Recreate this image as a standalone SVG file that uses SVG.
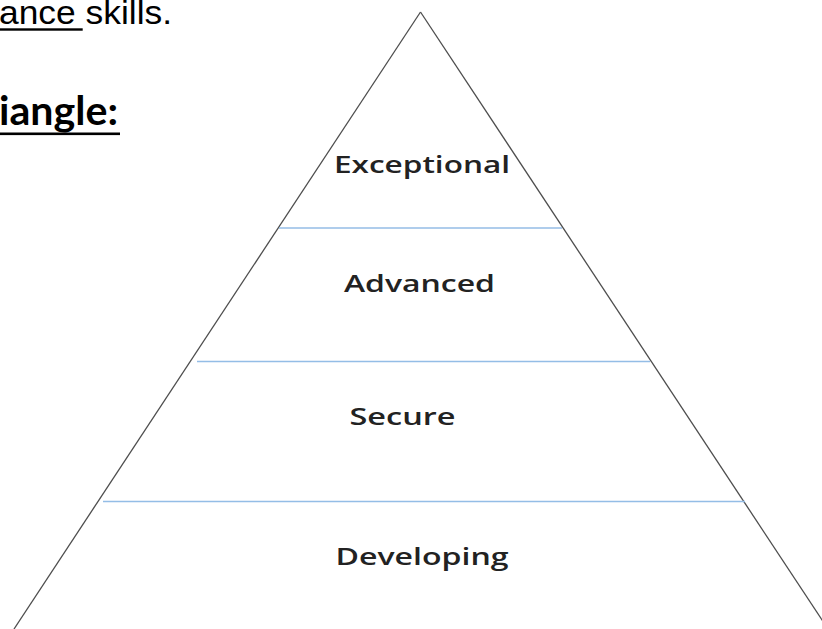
<svg xmlns="http://www.w3.org/2000/svg" width="822" height="629" viewBox="0 0 822 629">
<style>
.bg{fill:#ffffff}
.edge{stroke:#4d4d4d;stroke-width:1.3;fill:none}
.div{stroke:#94bde6;stroke-width:1.5;fill:none}
.lbl{font-family:"Open Sans","Noto Sans",sans-serif;font-size:24px;font-weight:600;fill:#222222}
.body{font-family:"Liberation Sans",Arial,sans-serif;font-size:33px;fill:#000}
.head{font-family:Lato,"Open Sans",sans-serif;font-weight:bold;font-size:40px;fill:#000}
.ul{fill:#000}
</style>
<rect class="bg" x="0" y="0" width="822" height="629"/>
<g id="heading">
<text class="body" x="-1" y="23.5" textLength="173" lengthAdjust="spacingAndGlyphs">ance skills.</text>
<rect class="ul" x="0" y="28.3" width="82.7" height="2.4"/>
<text class="head" x="-1" y="125" textLength="119" lengthAdjust="spacingAndGlyphs">iangle:</text>
<rect class="ul" x="0" y="132.5" width="120" height="2.6"/>
</g>
<g id="connectors">
<line class="edge" x1="420.5" y1="12" x2="14" y2="629"/>
<line class="edge" x1="420.5" y1="12" x2="828" y2="629"/>
<line class="div" x1="279" y1="228" x2="562" y2="228"/>
<line class="div" x1="197" y1="361.5" x2="650" y2="361.5"/>
<line class="div" x1="103" y1="501.5" x2="745" y2="501.5"/>
</g>
<g id="exceptional">
<text class="lbl" x="334" y="173.3" textLength="176" lengthAdjust="spacingAndGlyphs">Exceptional</text>
</g>
<g id="advanced">
<text class="lbl" x="344" y="291.5" textLength="151" lengthAdjust="spacingAndGlyphs">Advanced</text>
</g>
<g id="secure">
<text class="lbl" x="349.5" y="425" textLength="106" lengthAdjust="spacingAndGlyphs">Secure</text>
</g>
<g id="developing">
<text class="lbl" x="335.5" y="565" textLength="173" lengthAdjust="spacingAndGlyphs">Developing</text>
</g>
</svg>
